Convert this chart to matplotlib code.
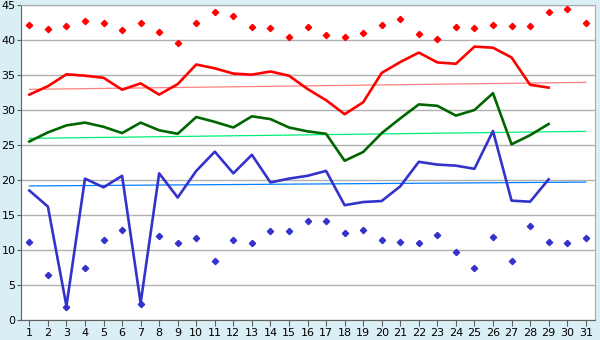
import matplotlib
matplotlib.use('Agg')
import matplotlib.pyplot as plt
import numpy as np

# Daily values
days = list(range(1, 32))

max_points = [42.1, 41.6, 41.95, 42.7, 42.4, 41.5, 42.4, 41.2, 39.6, 42.4,
              44.0, 43.4, 41.8, 41.7, 40.4, 41.8, 40.7, 40.4, 40.95, 42.1,
              42.95, 40.8, 40.2, 41.8, 41.7, 42.2, 41.95, 41.95, 44.0, 44.4, 42.4]
min_points = [11.1, 6.4, 1.9, 7.5, 11.4, 12.8, 2.3, 11.95, 10.95, 11.7,
              8.4, 11.5, 10.95, 12.7, 12.7, 14.1, 14.1, 12.4, 12.8, 11.4,
              11.2, 10.95, 12.1, 9.7, 7.4, 11.8, 8.5, 13.4, 11.1, 10.95, 11.7]

red_line = [32.2, 33.4, 35.1, 34.9, 34.6, 32.9, 33.8, 32.2, 33.7, 36.5,
            35.95, 35.2, 35.05, 35.5, 34.9, 33.0, 31.4, 29.4, 31.1, 35.3,
            36.85, 38.2, 36.8, 36.6, 39.05, 38.9, 37.5, 33.6, 33.2]
green_line = [25.5, 26.8, 27.8, 28.2, 27.6, 26.7, 28.2, 27.1, 26.6, 29.0,
              28.3, 27.5, 29.1, 28.7, 27.5, 26.95, 26.6, 22.75, 24.0, 26.7,
              28.8, 30.8, 30.6, 29.2, 30.0, 32.4, 25.1, 26.4, 28.0]
blue_line = [18.5, 16.2, 2.0, 20.2, 18.95, 20.6, 2.4, 20.95, 17.5, 21.3,
             24.05, 20.95, 23.6, 19.65, 20.2, 20.6, 21.3, 16.4, 16.85, 17.0,
             19.1, 22.6, 22.2, 22.05, 21.6, 27.0, 17.05, 16.9, 20.1]

# trend lines: value at day 1 and day 31
trend_days = [1, 31]
red_trend = [32.95, 33.95]
green_trend = [25.95, 26.95]
blue_trend = [19.15, 19.7]

fig = plt.figure(figsize=(6, 3.4), dpi=100)
fig.patch.set_facecolor('#daeef6')
ax = fig.add_axes([21 / 600, 20 / 340, 574 / 600, 315 / 340])
ax.set_facecolor('white')

ax.plot(trend_days, red_trend, color='#ff8080', lw=0.9, zorder=2)
ax.plot(trend_days, green_trend, color='#00ee77', lw=0.9, zorder=2)
ax.plot(trend_days, blue_trend, color='#0080ff', lw=0.9, zorder=2)

n = len(red_line)
ax.plot(days[:n], red_line, color='#ff0000', lw=1.9, zorder=3)
ax.plot(days[:n], green_line, color='#006600', lw=1.9, zorder=3)
ax.plot(days[:n], blue_line, color='#3333cc', lw=1.9, zorder=3)

ax.plot(days, max_points, ls='none', marker='D', ms=3.2, color='#ff0000', zorder=4)
ax.plot(days, min_points, ls='none', marker='D', ms=3.2, color='#3333cc', zorder=4)

ax.set_xlim(0.55, 31.5)
ax.set_ylim(0, 45)
ax.set_xticks(days)
ax.set_yticks(range(0, 46, 5))
ax.yaxis.grid(True, color='#b0b0b0', lw=1)
ax.set_axisbelow(True)
ax.tick_params(axis='x', labelsize=8, color='#606060', length=4, pad=2)
ax.tick_params(axis='y', labelsize=8, color='#606060', length=3, pad=1)

for side in ['top', 'right']:
    ax.spines[side].set_color('#a8a8a8')
for side in ['left', 'bottom']:
    ax.spines[side].set_color('#606060')

plt.savefig('out.png', dpi=100, facecolor=fig.get_facecolor())
